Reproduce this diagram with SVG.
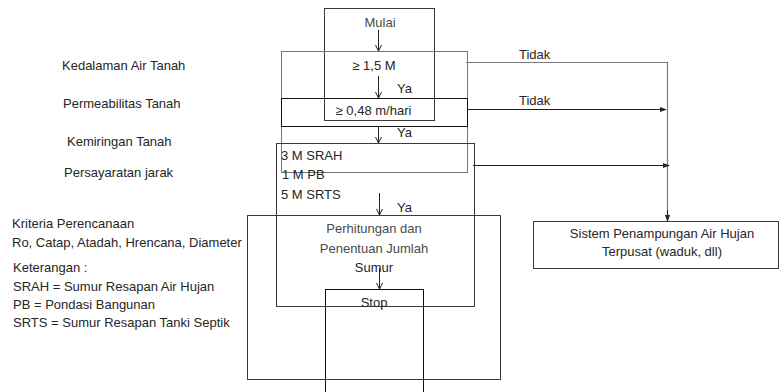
<svg xmlns="http://www.w3.org/2000/svg" width="783" height="392" viewBox="0 0 783 392">
<style>
text{font-family:"Liberation Sans",Arial,sans-serif;font-size:13px;fill:#262626}
.c{text-anchor:middle}
.g{fill:#4a4a4a}
.box{fill:none;stroke:#3a3a3a;stroke-width:1}
.dk{stroke:#111}
.gr{stroke:#777}
.ln{fill:none;stroke:#222;stroke-width:1}
.lg{fill:none;stroke:#7a7a7a;stroke-width:1.2}
</style>
<defs>
<marker id="v" viewBox="0 0 8 8" refX="7" refY="4" markerWidth="8" markerHeight="8" markerUnits="userSpaceOnUse" orient="auto">
<path d="M1,1 L7,4 L1,7" fill="none" stroke="#222" stroke-width="1"/>
</marker>
<marker id="t" viewBox="0 0 8 8" refX="7" refY="4" markerWidth="7" markerHeight="7" markerUnits="userSpaceOnUse" orient="auto">
<path d="M0,1 L8,4 L0,7 Z" fill="#222"/>
</marker>
</defs>
<rect width="783" height="392" fill="#fff"/>

<g id="labels">
<text x="62" y="70">Kedalaman Air Tanah</text>
<text x="63" y="108">Permeabilitas Tanah</text>
<text x="67" y="146">Kemiringan Tanah</text>
<text x="64" y="177">Persayaratan jarak</text>
<text x="12" y="228">Kriteria Perencanaan</text>
<text x="12" y="247">Ro, Catap, Atadah, Hrencana, Diameter</text>
<text x="13" y="272">Keterangan :</text>
<text x="13" y="291">SRAH = Sumur Resapan Air Hujan</text>
<text x="13" y="309">PB = Pondasi Bangunan</text>
<text x="13" y="327">SRTS = Sumur Resapan Tanki Septik</text>
</g>

<g id="n-mulai">
<rect class="box" x="324.5" y="8.5" width="110" height="112"/>
<text class="c g" x="380" y="27">Mulai</text>
</g>
<g id="n-kedalaman">
<rect class="box gr" x="281.5" y="51.5" width="186" height="121"/>
<text class="c" x="374" y="70">≥ 1,5 M</text>
</g>
<g id="n-permeabilitas">
<rect class="box dk" x="281.5" y="98.5" width="186" height="28"/>
<text class="c" x="373.5" y="115">≥ 0,48 m/hari</text>
</g>
<g id="n-jarak">
<rect class="box" x="276.5" y="143.5" width="198" height="163"/>
<text x="281" y="160">3 M SRAH</text>
<text x="282" y="179">1 M PB</text>
<text x="281" y="199">5 M SRTS</text>
</g>
<g id="n-perhitungan">
<rect class="box" x="247.5" y="215.5" width="253" height="164"/>
<text class="c g" x="374" y="233">Perhitungan dan</text>
<text class="c g" x="374" y="253">Penentuan Jumlah</text>
<text class="c" x="374" y="272">Sumur</text>
</g>
<g id="n-stop">
<rect class="box dk" x="325.5" y="289.5" width="98" height="110"/>
<text class="c" x="374" y="307">Stop</text>
</g>
<g id="n-sistem">
<rect class="box" x="533.5" y="221.5" width="245" height="47"/>
<text class="c" x="662" y="238">Sistem Penampungan Air Hujan</text>
<text class="c" x="662" y="256">Terpusat (waduk, dll)</text>
</g>

<g id="connectors">
<line class="ln" x1="378.5" y1="30" x2="378.5" y2="51" marker-end="url(#v)"/>
<line class="ln" x1="378.5" y1="76" x2="378.5" y2="98" marker-end="url(#v)"/>
<line class="ln" x1="378.5" y1="127" x2="378.5" y2="143" marker-end="url(#v)"/>
<line class="ln" x1="379.5" y1="193" x2="379.5" y2="215" marker-end="url(#v)"/>
<line class="ln" x1="379.5" y1="268" x2="379.5" y2="289" marker-end="url(#v)"/>
<text x="397" y="93">Ya</text>
<text x="397" y="137">Ya</text>
<text x="397" y="212">Ya</text>
<polyline class="lg" points="466,62.5 667.5,62.5 667.5,218"/>
<line class="ln" x1="667.5" y1="210" x2="667.5" y2="221" marker-end="url(#t)"/>
<line class="ln" x1="468" y1="109.5" x2="666" y2="109.5" marker-end="url(#t)"/>
<line class="ln" x1="473" y1="165.5" x2="669" y2="165.5" marker-end="url(#t)"/>
<text x="519" y="59">Tidak</text>
<text x="519" y="105">Tidak</text>
</g>
</svg>
